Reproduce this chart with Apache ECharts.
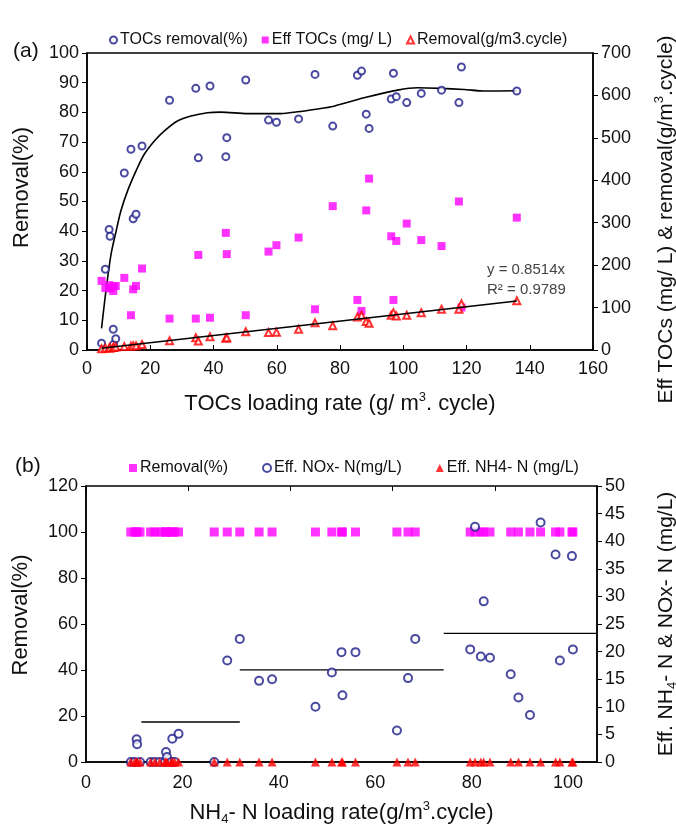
<!DOCTYPE html>
<html>
<head>
<meta charset="utf-8">
<script src="https://cdn.jsdelivr.net/npm/echarts@6/dist/echarts.min.js"></script>
<style>html,body{margin:0;padding:0;background:#fff}#c{width:676px;height:826px}</style>
</head>
<body>
<div id="c"></div>
<script>
// ---------- Panel (a) data ----------
const tocLoad = [4.6,5.8,7.0,7.3,8.3,8.4,9.1,11.8,13.9,14.6,15.5,17.4,26.1,34.4,35.2,38.9,43.9,44.2,50.2,57.4,59.9,66.9,72.1,77.7,85.5,86.8,88.3,89.2,96.2,96.9,97.8,101.1,105.7,112.1,117.6,118.4,135.9];
const tocRemovalPct = [2.3,27.2,40.6,38.3,7.0,1.9,3.8,59.6,67.6,44.2,45.7,68.7,84.1,88.1,64.7,88.9,65.1,71.5,90.9,77.4,76.7,77.8,92.8,75.4,92.5,93.9,79.4,74.6,84.5,93.2,85.3,83.3,86.4,87.5,83.3,95.3,87.2];
const effTOC = [163,146,153,145,139,150,151,170,82,143,151,192,74,74,224,76,276,226,82,232,247,265,96,339,118,92,329,404,268,118,257,298,259,245,350,100,312];
const removalRate = [3,4,5,5,6,6,7,8,9,10,10,13,22,29,21,31,27.5,29,43,41,42,49,64,57,78,82,67,63,82,88,80,82,88,96,96,109,116];
// fitted curve for TOCs removal
const curveX = [4.6,6.0,7.6,9.2,10.7,12.8,15.5,18.1,21.3,24.4,28.6,32.9,38.1,42.3,50.8,61.3,66.6,71.8,78.1,87.6,98.2,104.5,111.9,119.2,125.6,135.9];
const curveY = [7.3,20.0,32.2,40.0,46.8,53.5,60.3,65.9,70.4,73.7,77.1,78.8,79.9,80.1,79.6,79.6,80.2,81.0,82.1,84.9,87.5,88.3,88.1,87.7,87.2,87.3];
// linear fit line end points (y = 0.8514x)
const fitX = [4.6,135.9];
const fitY = [3.9,115.7];
const xTicksA = [0,20,40,60,80,100,120,140,160];

// ---------- Panel (b) data ----------
const nh4Load = [9.3,10.1,10.5,10.6,11.2,13.4,14.3,15.3,16.4,16.6,16.8,17.7,17.9,18.4,19.2,26.6,29.3,31.9,35.9,38.6,47.6,51.0,53.0,53.2,55.9,64.5,66.8,68.3,79.7,80.7,81.9,82.5,83.8,88.1,89.7,92.1,94.3,97.4,98.3,100.8,101.0];
const nRemovalPct = [100,100,100,100,100,100,100,100,100,100,100,100,100,100,100,100,100,100,100,100,100,100,100,100,100,100,100,100,100,100,100,100,100,100,100,100,100,100,100,100,100];
const effNOx = [0,0,4.1,3.2,0,0,0,0,0,1.8,0.9,0,4.2,0,5.1,0,18.4,22.3,14.7,15.0,10.0,16.2,19.9,12.1,19.9,5.7,15.2,22.3,20.4,42.6,19.1,29.1,18.9,15.9,11.7,8.5,43.4,37.6,18.4,37.3,20.4];
const effNH4 = [0,0,0,0,0,0,0,0,0,0,0,0,0,0,0,0,0,0,0,0,0,0,0,0,0,0,0,0,0,0,0,0,0,0,0,0,0,0,0,0,0];
// mean NOx level per phase: start, end, level
const meanStart = [11.5,31.9,74.2];
const meanEnd = [31.9,74.2,106];
const meanLevel = [7.25,16.7,23.3];

const FF = "'Liberation Sans', Arial, sans-serif";
const TXT = '#111';
const NAVY = '#1d1d8a';
const MAG = '#ff00ff';
const RED = '#ff0000';

function pairs(xs, ys){ return xs.map((x,i)=>[x, ys[i]]); }

const lbl = {fontSize:18, color:TXT, fontFamily:FF};
const axLine = {show:true, onZero:false, lineStyle:{color:'#000', width:1.5}};
const richName = {
  sup:{fontSize:13, verticalAlign:'top', fontFamily:FF, color:TXT},
  sub:{fontSize:13, verticalAlign:'bottom', fontFamily:FF, color:TXT}
};
function nameStyle(sz, pad){ return {fontSize:sz, color:TXT, fontFamily:FF, lineHeight:26, rich:richName, padding:pad||0}; }

const meanSeries = meanLevel.map((lv,i)=>({
  type:'line', xAxisIndex:1, yAxisIndex:3, symbol:'none', silent:true,
  data:[[meanStart[i], lv],[meanEnd[i], lv]],
  lineStyle:{color:'#000', width:1.3}, z:1
}));

const option = {
  animation:false,
  backgroundColor:'#fff',
  title:[
    {text:'(a)', left:8, top:36, textStyle:{fontSize:21, fontWeight:'normal', color:TXT, fontFamily:FF}},
    {text:'(b)', left:10, top:451, textStyle:{fontSize:21, fontWeight:'normal', color:TXT, fontFamily:FF}}
  ],
  legend:[
    {data:['TOCs removal(%)','Eff TOCs (mg/ L)','Removal(g/m3.cycle)'], left:104, top:27, itemWidth:7, itemHeight:7, itemGap:14,
     textStyle:{fontSize:16, color:TXT, fontFamily:FF, padding:[0,0,0,-2]}},
    {data:['Removal(%)','Eff. NOx- N(mg/L)','Eff. NH4- N (mg/L)'], left:124, top:455, itemWidth:8, itemHeight:8, itemGap:34,
     textStyle:{fontSize:16, color:TXT, fontFamily:FF, padding:[0,0,0,-2]}}
  ],
  grid:[
    {left:87, top:53, width:506, height:297, show:true, borderColor:'#000', borderWidth:1.5, backgroundColor:'transparent', containLabel:false, outerBoundsMode:'none'},
    {left:86, top:486, width:511, height:276, show:true, borderColor:'#000', borderWidth:1.5, backgroundColor:'transparent', containLabel:false, outerBoundsMode:'none'}
  ],
  xAxis:[
    {gridIndex:0, type:'value', min:xTicksA[0], max:xTicksA[xTicksA.length-1], interval:20,
     axisLine:axLine, axisTick:{inside:true, length:5, lineStyle:{color:'#000'}}, splitLine:{show:false},
     axisLabel:Object.assign({margin:10}, lbl),
     name:'TOCs loading rate (g/ m{sup|3}. cycle)', nameLocation:'middle', nameGap:41, nameTextStyle:nameStyle(22)},
    {gridIndex:1, type:'value', min:0, max:106, interval:20,
     axisLine:axLine, axisTick:{show:false}, splitLine:{show:false},
     axisLabel:Object.assign({margin:12, showMaxLabel:false}, lbl),
     name:'NH{sub|4}- N loading rate(g/m{sup|3}.cycle)', nameLocation:'middle', nameGap:38, nameTextStyle:nameStyle(22)},
    {gridIndex:1, type:'value', min:0, max:5, interval:1,
     axisLine:{show:false, onZero:false}, axisTick:{inside:true, length:5, lineStyle:{color:'#000'}}, splitLine:{show:false},
     axisLabel:{show:false}}
  ],
  yAxis:[
    {gridIndex:0, type:'value', min:0, max:100, interval:10, position:'left',
     axisLine:axLine, axisTick:{show:true, length:5, lineStyle:{color:'#000'}}, splitLine:{show:false},
     axisLabel:Object.assign({margin:8}, lbl),
     name:'Removal(%)', nameLocation:'middle', nameGap:52, nameTextStyle:nameStyle(22, [0,0,0,28])},
    {gridIndex:0, type:'value', min:0, max:700, interval:100, position:'right',
     axisLine:axLine, axisTick:{show:true, length:5, lineStyle:{color:'#000'}}, splitLine:{show:false},
     axisLabel:Object.assign({margin:8}, lbl),
     name:'Eff TOCs (mg/ L) & removal(g/m{sup|3}.cycle)', nameLocation:'middle', nameGap:60, nameTextStyle:nameStyle(21, [0,36,0,0])},
    {gridIndex:1, type:'value', min:0, max:120, interval:20, position:'left',
     axisLine:axLine, axisTick:{show:true, length:5, lineStyle:{color:'#000'}}, splitLine:{show:false},
     axisLabel:Object.assign({margin:8}, lbl),
     name:'Removal(%)', nameLocation:'middle', nameGap:52, nameTextStyle:nameStyle(22, [0,0,0,18])},
    {gridIndex:1, type:'value', min:0, max:50, interval:5, position:'right',
     axisLine:axLine, axisTick:{show:true, length:5, lineStyle:{color:'#000'}}, splitLine:{show:false},
     axisLabel:Object.assign({margin:8}, lbl),
     name:'Eff. NH{sub|4}- N & NOx- N (mg/L)', nameLocation:'middle', nameGap:56, nameTextStyle:nameStyle(21)}
  ],
  graphic:[
    {type:'text', left:487, top:262, style:{text:'y = 0.8514x', fontSize:15, fill:'#444', fontFamily:FF}},
    {type:'text', left:487, top:282, style:{text:'R² = 0.9789', fontSize:15, fill:'#444', fontFamily:FF}}
  ],
  series:[
    {name:'TOCs removal(%)', type:'scatter', xAxisIndex:0, yAxisIndex:0, symbol:'emptyCircle', symbolSize:7,
     itemStyle:{color:NAVY, borderWidth:1.8}, data:pairs(tocLoad, tocRemovalPct), z:3},
    {name:'Eff TOCs (mg/ L)', type:'scatter', xAxisIndex:0, yAxisIndex:1, symbol:'rect', symbolSize:8,
     itemStyle:{color:MAG}, data:pairs(tocLoad, effTOC), z:2},
    {name:'Removal(g/m3.cycle)', type:'scatter', xAxisIndex:0, yAxisIndex:1, symbol:'emptyTriangle', symbolSize:7,
     itemStyle:{color:RED, borderWidth:1.3}, data:pairs(tocLoad, removalRate), z:4},
    {type:'line', xAxisIndex:0, yAxisIndex:0, symbol:'none', smooth:0.3, silent:true,
     lineStyle:{color:'#000', width:1.6}, data:pairs(curveX, curveY), z:1},
    {type:'line', xAxisIndex:0, yAxisIndex:1, symbol:'none', silent:true,
     lineStyle:{color:'#000', width:1.5}, data:pairs(fitX, fitY), z:5},

    {name:'Removal(%)', type:'scatter', xAxisIndex:1, yAxisIndex:2, symbol:'rect', symbolSize:9,
     itemStyle:{color:MAG}, data:pairs(nh4Load, nRemovalPct), z:2},
    {name:'Eff. NOx- N(mg/L)', type:'scatter', xAxisIndex:1, yAxisIndex:3, symbol:'emptyCircle', symbolSize:8,
     itemStyle:{color:NAVY, borderWidth:1.8}, data:pairs(nh4Load, effNOx), z:3},
    {name:'Eff. NH4- N (mg/L)', type:'scatter', xAxisIndex:1, yAxisIndex:3, symbol:'triangle', symbolSize:9,
     itemStyle:{color:RED}, data:pairs(nh4Load, effNH4), z:4}
  ].concat(meanSeries)
};

const chart = echarts.init(document.getElementById('c'), null, {renderer:'canvas'});
chart.setOption(option);
</script>
</body>
</html>
